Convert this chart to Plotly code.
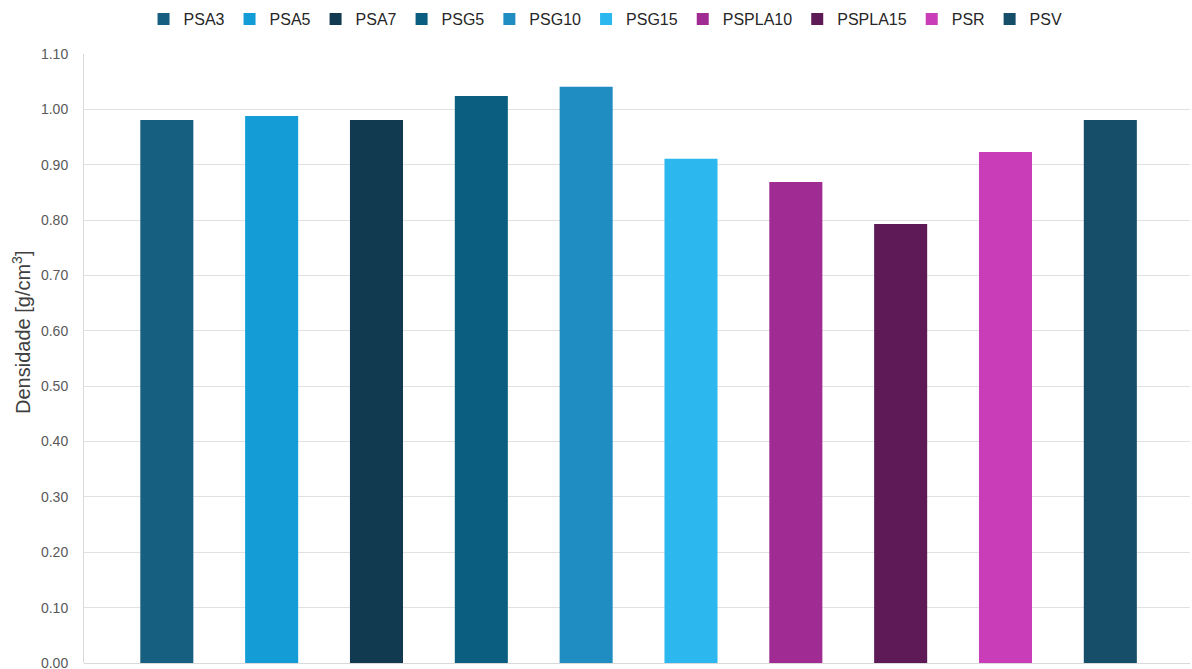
import plotly.graph_objects as go

# Sample names and measured densities (g/cm³)
samples = ["PSA3", "PSA5", "PSA7", "PSG5", "PSG10", "PSG15",
           "PSPLA10", "PSPLA15", "PSR", "PSV"]
densities = [0.981, 0.988, 0.981, 1.024, 1.041, 0.911,
             0.869, 0.793, 0.923, 0.981]
colors = ["#175F80", "#149CD6", "#113A50", "#0B5E80", "#1F8DC1",
          "#2CB8EE", "#A02B93", "#5E1A56", "#C93DB8", "#164D69"]

y_ticks = [i / 10 for i in range(12)]

fig = go.Figure()
for name, val, col in zip(samples, densities, colors):
    fig.add_trace(go.Bar(
        x=[name], y=[val], name=name,
        marker=dict(color=col, line=dict(width=0)),
        width=0.506,
    ))

fig.update_layout(
    width=1192, height=669,
    margin=dict(l=84, r=2, t=54, b=6, autoexpand=False),
    paper_bgcolor="white", plot_bgcolor="white",
    barmode="overlay",
    font=dict(family="Liberation Sans, Arial, sans-serif", color="#404040"),
    showlegend=True,
    legend=dict(
        orientation="h", x=0.508, xanchor="center", xref="container",
        y=0.997, yanchor="top", yref="container",
        font=dict(size=16, color="#262626"),
        itemwidth=30, traceorder="normal",
    ),
    xaxis=dict(
        categoryorder="array", categoryarray=samples,
        range=[-0.79, 9.76], showticklabels=False, ticks="",
        showgrid=False, showline=False, zeroline=False,
    ),
    yaxis=dict(
        range=[0, 1.10], tickvals=y_ticks,
        ticktext=[f"{v:.2f}" for v in y_ticks],
        tickfont=dict(size=14, color="#595959"),
        ticklabelstandoff=12, ticklabeloverflow="allow", automargin=False,
        showgrid=True, gridcolor="#E1E1E1", gridwidth=1,
        zeroline=True, zerolinecolor="#D9D9D9", zerolinewidth=1,
        showline=True, linecolor="#D9D9D9", linewidth=1,
        ticks="", ticklen=0,
    ),
    annotations=[dict(
        text="Densidade [g/cm<sup>3</sup>]", textangle=-90,
        xref="paper", yref="paper", x=-0.0570, y=0.5435,
        xanchor="center", yanchor="middle", showarrow=False,
        font=dict(size=20, color="#404040"),
    )],
)

fig.write_html("out.html")
